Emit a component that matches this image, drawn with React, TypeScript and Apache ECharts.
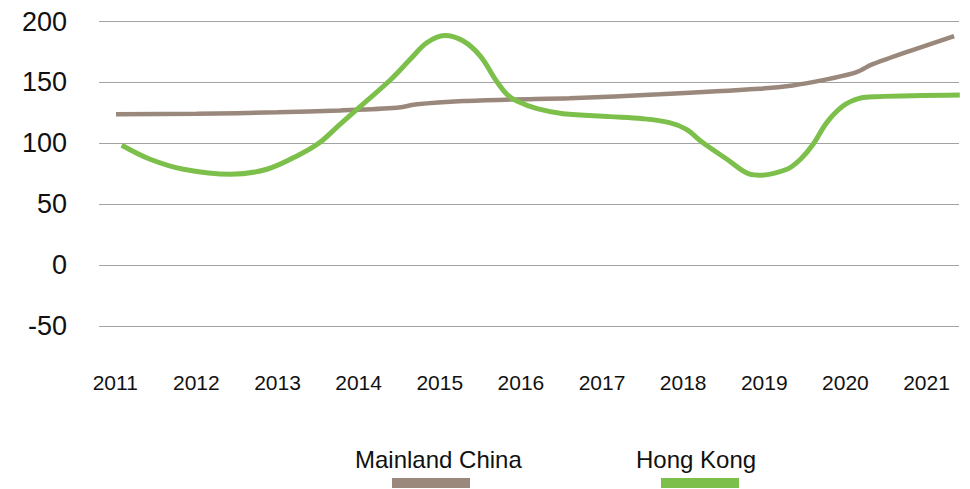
import React, { useEffect, useRef } from "react";
import * as echarts from "echarts";

const yearTicks = [2011, 2012, 2013, 2014, 2015, 2016, 2017, 2018, 2019, 2020, 2021];
const seriesNames = ["Mainland China", "Hong Kong"];

// [fractional year, value]
const mainlandChina: [number, number][] = [
  [2011.01, 123.8],
  [2012.0, 124.2],
  [2013.0, 125.4],
  [2013.77, 127],
  [2014.47, 129.2],
  [2014.72, 132],
  [2015.29, 134.7],
  [2015.9, 136],
  [2016.6, 137],
  [2017.71, 140.2],
  [2018.94, 144.8],
  [2019.35, 147.5],
  [2019.77, 152.5],
  [2020.09, 157.4],
  [2020.21, 160.7],
  [2020.3, 164],
  [2020.79, 175.7],
  [2021.34, 188],
];

const hongKong: [number, number][] = [
  [2011.08, 98.4],
  [2011.43, 86.9],
  [2011.84, 78.7],
  [2012.42, 74.6],
  [2012.87, 78.7],
  [2013.28, 91],
  [2013.52, 100.6],
  [2013.77, 115.6],
  [2014.05, 132],
  [2014.39, 152],
  [2014.63, 168.5],
  [2014.84, 182.5],
  [2015.06, 188.5],
  [2015.29, 184],
  [2015.5, 171.6],
  [2015.7, 151],
  [2015.83, 140],
  [2015.95, 134.7],
  [2016.2, 128.4],
  [2016.52, 124.3],
  [2017.1, 121.9],
  [2017.5, 120.2],
  [2017.83, 117],
  [2018.04, 111.5],
  [2018.24, 100.6],
  [2018.54, 86.9],
  [2018.82, 74.6],
  [2018.94, 73.8],
  [2019.28, 78.7],
  [2019.44, 86.5],
  [2019.6, 99],
  [2019.77, 117],
  [2019.97, 130.6],
  [2020.17, 136.9],
  [2020.38, 138.3],
  [2021.41, 139.6],
];

const colors = ["#9b887c", "#7cc04b"];
const FONT = "'Liberation Sans', Arial, Helvetica, sans-serif";

export default function App() {
  const ref = useRef<HTMLDivElement>(null);
  useEffect(() => {
    if (!ref.current) return;
    const chart = echarts.init(ref.current, undefined, { renderer: "svg" });
    chart.setOption({
      animation: false,
      backgroundColor: "#ffffff",
      grid: { left: 99, right: 11, top: 21.5, bottom: 163, containLabel: false },
      xAxis: {
        type: "value",
        min: 2010.8,
        max: 2021.4,
        axisLine: { show: false },
        axisTick: { show: false },
        splitLine: { show: false },
        axisLabel: {
          customValues: yearTicks,
          formatter: (v: number) => String(Math.round(v)),
          color: "#111",
          fontFamily: FONT,
          fontSize: 21,
          margin: 46,
        },
      },
      yAxis: {
        type: "value",
        min: -50,
        max: 200,
        interval: 50,
        axisLine: { show: false },
        axisTick: { show: false },
        splitLine: { show: true, lineStyle: { color: "#a3a3a3", width: 1 } },
        axisLabel: {
          color: "#111",
          fontFamily: FONT,
          fontSize: 27,
          margin: 32,
        },
      },
      graphic: [
        {
          type: "text",
          left: 355,
          top: 447,
          style: { text: seriesNames[0], fontFamily: FONT, fontSize: 24, fill: "#111" },
        },
        {
          type: "rect",
          shape: { x: 392, y: 478, width: 78, height: 10 },
          style: { fill: colors[0] },
        },
        {
          type: "text",
          left: 636,
          top: 447,
          style: { text: seriesNames[1], fontFamily: FONT, fontSize: 24, fill: "#111" },
        },
        {
          type: "rect",
          shape: { x: 661, y: 478, width: 78, height: 10 },
          style: { fill: colors[1] },
        },
      ],
      series: [
        {
          name: seriesNames[0],
          type: "line",
          data: mainlandChina,
          smooth: 0.3,
          showSymbol: false,
          lineStyle: { color: colors[0], width: 4.5 },
          z: 2,
        },
        {
          name: seriesNames[1],
          type: "line",
          data: hongKong,
          smooth: 0.35,
          showSymbol: false,
          lineStyle: { color: colors[1], width: 5 },
          z: 3,
        },
      ],
    });
    return () => chart.dispose();
  }, []);
  return (
    <div
      ref={ref}
      style={{ position: "absolute", left: 0, top: 0, width: 970, height: 489 }}
    />
  );
}
